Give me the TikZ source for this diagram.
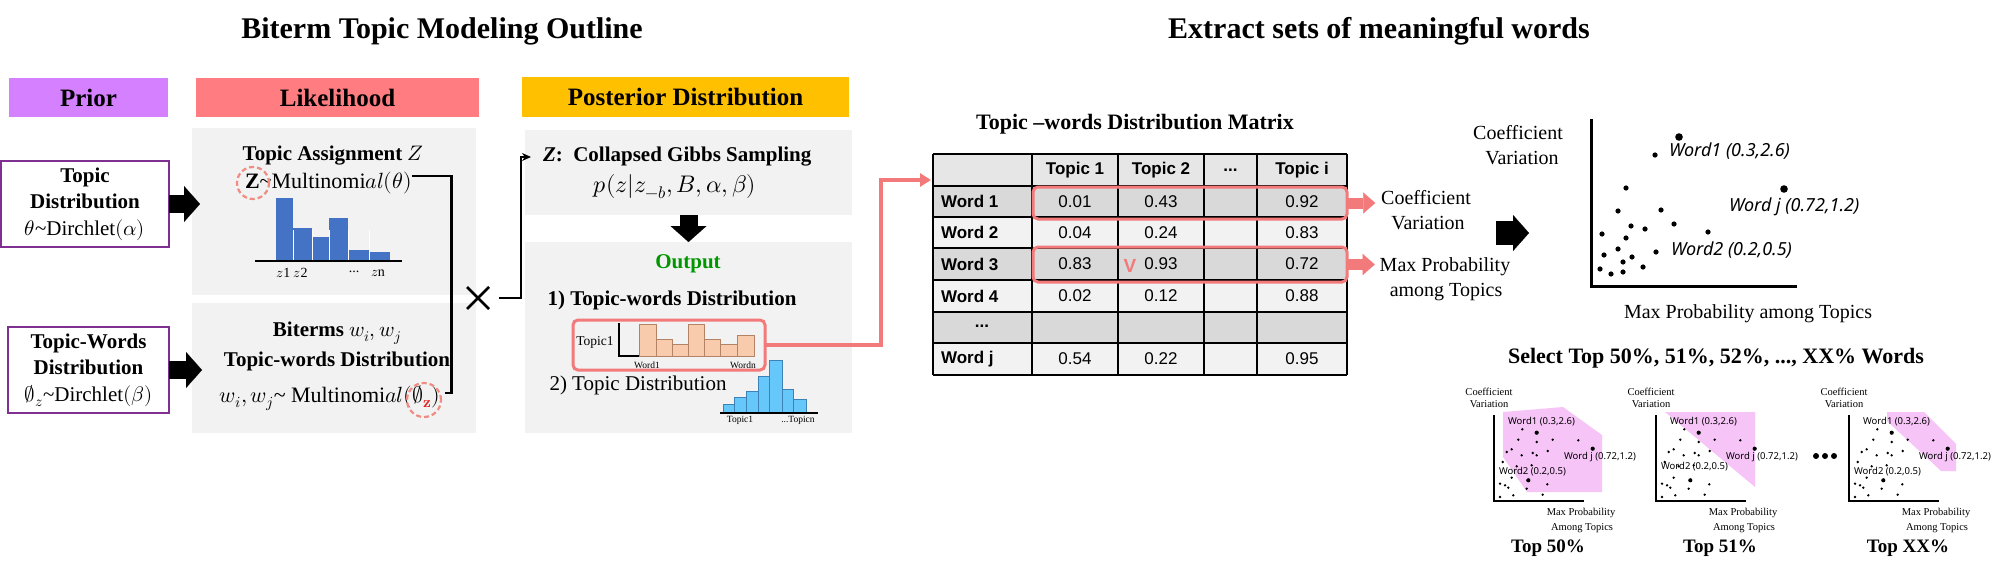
\documentclass[tikz,border=0pt]{standalone}
\usepackage{fontspec}
\usepackage{unicode-math}
\setmainfont{Liberation Serif}
\setmathfont{Latin Modern Math}
\newfontfamily\sansf{Noto Sans}
\newfontfamily\tabf{Liberation Sans}
\usetikzlibrary{arrows.meta,calc}
\newcommand\fsz[2]{\fontsize{#1}{#2}\selectfont}
\definecolor{priorc}{RGB}{213,128,255}
\definecolor{likc}{RGB}{255,124,128}
\definecolor{postc}{RGB}{255,192,0}
\definecolor{purpc}{RGB}{128,48,144}
\definecolor{grayc}{RGB}{242,242,242}
\definecolor{salmon}{RGB}{242,122,122}
\definecolor{dashred}{RGB}{240,140,130}
\definecolor{histblue}{RGB}{68,114,196}
\definecolor{peach}{RGB}{248,203,173}
\definecolor{peachd}{RGB}{180,130,100}
\definecolor{skyb}{RGB}{102,200,250}
\definecolor{skybd}{RGB}{60,130,180}
\definecolor{outgreen}{RGB}{0,150,0}
\definecolor{zred}{RGB}{230,30,30}
\definecolor{hdrc}{RGB}{230,230,230}
\definecolor{dkc}{RGB}{217,217,217}
\definecolor{ltc}{RGB}{242,242,242}
\definecolor{pinkc}{RGB}{246,196,246}
\tikzset{
 gbox/.style={rectangle, fill=grayc, draw=none},
 hdr/.style={rectangle, font=\fsz{25}{30}\bfseries},
 pbox/.style={rectangle, draw=purpc, line width=2.5pt, fill=white, align=center, font=\fsz{21}{26.5}},
 conn/.style={draw=black, line width=2.5pt},
 dcirc/.style={circle, draw=dashred, dash pattern=on 5pt off 3pt, line width=2.2pt},
 redrect/.style={rectangle, rounded corners=5pt, draw=salmon, line width=3pt},
 redconn/.style={draw=salmon, line width=3.5pt},
 blkbig/.style={draw=black, line width=18pt, -{Triangle[length=16pt,width=36pt,line width=0.1pt]}},
 blkr/.style={draw=black, line width=24pt, -{Triangle[length=16pt,width=36pt,line width=0.1pt]}},
 blksm/.style={draw=salmon, line width=11pt, -{Triangle[length=12pt,width=21pt,line width=0.1pt]}},
 body/.style={font=\fsz{21}{25}},
 bodym/.style={font=\fsz{22}{25}},
 bodyb/.style={font=\fsz{21}{25}\bfseries},
 lab/.style={font=\fsz{20}{24}},
 tnum/.style={font=\tabf\fsz{17}{20}},
 tb/.style={font=\tabf\bfseries\fsz{17}{20}},
 tline/.style={draw=black, line width=1.2pt},
}
\newcommand\smplot[6]{%
 \begin{scope}[shift={(1494+#1,501)}]
   \fill[pinkc] #3;
   \draw[line width=1.8pt] (0,-86) -- (0,0) -- (90,0);
   \foreach \px/\py in {28.3/-71.7,24.3/-61.3,42.7/-59,58.7/-61.3,84.3/-60.7,12.7/-49,17.7/-51.7,27.7/-45.7,38.7/-48,42.7/-45.7,53.7/-50,8.7/-39,37.7/-35.7,22.7/-34.7,17.7/-23.3,53.3/-16.7,6/-17.3,11/-15.7,14.3/-13.3,32.7/-12.3,6/-4,19.3/-5.7,48.7/-6.3}
     \fill (\px,\py) circle (1.3pt);
   \foreach \px/\py in {42.7/-68.3,98.7/-52.3,34.3/-20.7}
     \fill (\px,\py) circle (2.1pt);
   \node[font=\sansf\fsz{9.5}{11}, anchor=west] (#2w1) at (14,-79) {Word1 (0.3,2.6)};
   \node[font=\sansf\fsz{9.5}{11}, anchor=west] (#2wj) at (70,-44) {Word j (0.72,1.2)};
   \node[font=\sansf\fsz{9.5}{11}, anchor=west] (#2w2) at (5,#6) {Word2 (0.2,0.5)};
   \node[font=\fsz{10.5}{12}] (#2c1) at (-5,-109) {Coefficient};
   \node[font=\fsz{10.5}{12}] (#2c2) at (-5,-97) {Variation};
   \node[font=\fsz{10.5}{12}] (#2m1) at (87,12) {Max Probability};
   \node[font=\fsz{10.5}{12}] (#2m2) at (88,27) {Among Topics};
 \end{scope}
 \node[font=\fsz{19}{23}\bfseries] (#2t) at (#5,548) {#4};
}
\begin{document}
\begin{tikzpicture}[x=1pt,y=-1pt, every node/.style={inner sep=0pt, outer sep=0pt}]
\useasboundingbox (0,0) rectangle (2002,575);
\fill[white] (0,0) rectangle (2002,575);

% titles
\node[font=\fsz{30}{34}\bfseries] (t1) at (442,31) {Biterm Topic Modeling Outline};
\node[font=\fsz{30}{34}\bfseries] (t2) at (1379,31) {Extract sets of meaningful words};

% headers
\node[hdr, fill=priorc, minimum width=159pt, minimum height=39pt] (hp) at (88.5,97.5) {Prior};
\node[hdr, fill=likc, minimum width=283pt, minimum height=39pt] (hl) at (337.5,97.5) {Likelihood};
\node[hdr, fill=postc, minimum width=327pt, minimum height=40pt] (hpo) at (685.5,97) {Posterior Distribution};

% gray panels
\node[gbox, minimum width=284pt, minimum height=167pt] (likA) at (334,211.5) {};
\node[gbox, minimum width=284pt, minimum height=130pt] (likB) at (334,368) {};
\node[gbox, minimum width=327pt, minimum height=85pt] (postA) at (688.5,172.5) {};
\node[gbox, minimum width=327pt, minimum height=191pt] (postB) at (688.5,337.5) {};

% prior boxes
\node[pbox, minimum width=168pt, minimum height=86pt] (priorA) at (85,204)
  {\textbf{Topic}\\\textbf{Distribution}\\$\theta$\textasciitilde Dirchlet$(\alpha)$};
\node[pbox, minimum width=161pt, minimum height=86pt] (priorB) at (88.5,370)
  {\textbf{Topic-Words}\\\textbf{Distribution}\\$\emptyset_z$\textasciitilde Dirchlet$(\beta)$};
\draw[blkbig] (priorA.east) -- ([xshift=8pt]priorA.east -| likA.west);
\draw[blkbig] (priorB.east) -- ([xshift=10pt]priorB.east -| likB.west);

% likelihood A
\node[bodyb] (tassign) at (333,156) {Topic Assignment $Z$};
\node[bodym, anchor=west] (multi1) at (245,183) {\textbf{Z}\textasciitilde Multinomi$al(\theta)$};
\node[dcirc, minimum size=32pt] (zc1) at ([xshift=8pt]multi1.west) {};
\foreach \a/\b/\t in {276/293/198,293/312/228,312/329/237,329/348/218,348/369/250,369/390/252}
  \fill[histblue] (\a,261) rectangle (\b,\t);
\foreach \a in {293,312,329,348,369} \draw[white, line width=0.6pt] (\a,261) -- (\a,230);
\draw[line width=1.3pt] (255,261) -- (402,261);
\node[font=\fsz{14}{16}] (zl1) at (292,273) {$z$1 $z$2};
\node[font=\fsz{14}{16}] (zl2) at (354,272) {...};
\node[font=\fsz{14}{16}] (zl3) at (378,273) {$z$n};

% likelihood B
\node[bodyb] (biterms) at (337,333) {Biterms $w_i, w_j$};
\node[bodyb] (twd) at (337,361) {Topic-words Distribution};
\node[bodym, anchor=east] (multi2) at (440,398) {$w_i, w_j$\textasciitilde{} Multinomi$al(\emptyset_{\textcolor{zred}{\symbf{z}}})$};
\node[dcirc, minimum size=34pt] (zc2) at ([xshift=-16pt,yshift=-2pt]multi2.east) {};

% product bracket
\coordinate (b1) at (multi1.east);
\coordinate (b2) at (445,393);
\draw[conn] ([yshift=7pt]b1) -- ++(40,0) |- (b2);
\coordinate (times) at (478,298);
\draw[line width=2.6pt] (467,287) -- (489,309) (467,309) -- (489,287);

% posterior A
\node[bodyb, anchor=west] (gibbs) at (543,157) {\textbf{\textit{Z}}:\ \ Collapsed Gibbs Sampling};
\node[font=\fsz{24}{28}] (pz) at (675,187) {$p(z|z_{-b},B,\alpha,\beta)$};
\draw[conn, -{Stealth[length=9pt,width=8pt]}] ([xshift=21pt]times) -- ++(22,0) |- ([xshift=-12pt]gibbs.west);
\draw[blkbig] (postA.south) -- (postB.north);

% posterior B
\node[bodyb, text=outgreen] (out) at (688,264) {Output};
\node[bodyb] (tw1) at (672,300) {1) Topic-words Distribution};
\foreach \a/\b/\t in {639/656/324,656/672/339,672/688/344,688/704/324,704/720/339,720/737/344,737/754/335}
  \filldraw[fill=peach, draw=peachd, line width=0.6pt] (\a,356) rectangle (\b,\t);
\draw[line width=1.2pt] (619,323) -- (619,356) -- (639,356);
\node[font=\fsz{13.5}{15}] (topic1) at (595,342) {Topic1};
\node[font=\fsz{9.5}{11}] (w1l) at (647,365) {Word1};
\node[font=\fsz{9.5}{11}] (wnl) at (743,365) {Wordn};
\node[redrect, minimum width=192pt, minimum height=50pt] (twrect) at (669,345) {};
\node[body] (td2) at (638,385) {2) Topic Distribution};
\foreach \a/\b/\t in {723/734/404,734/746/397,746/758/391,758/769/376,769/782/360,782/793/389,793/806/399}
  \filldraw[fill=skyb, draw=skybd, line width=0.6pt] (\a,413) rectangle (\b,\t);
\draw[line width=1.2pt] (720,413) -- (818,413);
\node[font=\fsz{9.5}{11}] (tp1) at (740,420) {Topic1};
\node[font=\fsz{9.5}{11}] (tpn) at (798,420) {...Topicn};

% red connector to table
\coordinate (tabin) at (931,180);
\draw[redconn, -{Triangle[length=11pt,width=13pt]}] (twrect.east) -- ++(116,0) |- (tabin);

% table
\node[font=\fsz{22}{26}\bfseries] (tabt) at (1135,124) {Topic --words Distribution Matrix};
\fill[hdrc] (933,154) rectangle (1347,186);
\fill[dkc] (933,186) rectangle (1347,217);
\fill[ltc] (933,217) rectangle (1347,248);
\fill[dkc] (933,248) rectangle (1347,280);
\fill[ltc] (933,280) rectangle (1347,312);
\fill[dkc] (933,312) rectangle (1347,343);
\fill[ltc] (933,343) rectangle (1347,375);
\foreach \x in {933,1032,1118,1204,1257,1347} \draw[tline] (\x,154) -- (\x,375);
\foreach \y in {154,186,217,248,280,312,343,375} \draw[tline] (933,\y) -- (1347,\y);
\node[tb] (h1) at (1075,170) {Topic 1};
\node[tb] (h2) at (1161,170) {Topic 2};
\node[tb] (h3) at (1230.5,170) {...};
\node[tb] (h4) at (1302,170) {Topic i};
\foreach \n/\y/\a/\b/\c in {1/201.5/0.01/0.43/0.92, 2/232.5/0.04/0.24/0.83, 3/264/0.83/0.93/0.72, 4/296/0.02/0.12/0.88, j/359/0.54/0.22/0.95}{
  \node[tb, anchor=west] (rw\n) at (941,\y) {Word \n};
  \node[tnum] (ca\n) at (1075,\y) {\a};
  \node[tnum] (cb\n) at (1161,\y) {\b};
  \node[tnum] (cc\n) at (1302,\y) {\c};
}
\node[tb] (rdots) at (982,326) {...};
\node[redrect, minimum width=314pt, minimum height=32pt] (sel1) at (1190,203) {};
\node[redrect, minimum width=314pt, minimum height=35pt] (sel3) at (1190,264.5) {};
\node[font=\tabf\bfseries\fsz{19}{20}, text=salmon] (vmark) at (1130,266) {V};

% labels right of table
\node[lab] (cv1) at (1426,198) {Coefficient};
\node[lab] (cv2) at (1428,223) {Variation};
\node[lab] (mp1) at (1445,267) {Max Probability};
\node[lab] (mp2) at (1446,292) {among Topics};
\draw[blksm, shorten >=6pt] (sel1.east) -- (sel1.east -| cv1.west);
\draw[blksm, shorten >=5pt] (sel3.east) -- (sel3.east -| mp1.west);

% big arrow
\coordinate (ba1) at (1496,233);
\coordinate (ba2) at (1529,233);
\draw[blkr] (ba1) -- (ba2);

% scatter
\coordinate (sY) at (1591,119);
\coordinate (sO) at (1591,286);
\coordinate (sX) at (1797,286);
\draw[line width=3pt] (sY) -- (sO) -- (sX);
\foreach \px/\py in {1655/155,1626/188,1618/211,1661/210,1631/226,1645/229,1674/224,1708/232,1602/234,1626/238,1618/249,1656/252,1604/255,1632/257,1623/262,1643/267,1600/269,1611/274,1623/272}
  \fill (\px,\py) circle (2.6pt);
\fill (1679,137) circle (3.8pt);
\fill (1784,189) circle (3.8pt);
\node[font=\sansf\itshape\fsz{18}{20}, anchor=west] (lw1) at (1669,151) {Word1 (0.3,2.6)};
\node[font=\sansf\itshape\fsz{18}{20}, anchor=west] (lwj) at (1729,207) {Word j (0.72,1.2)};
\node[font=\sansf\itshape\fsz{18}{20}, anchor=west] (lw2) at (1671,250) {Word2 (0.2,0.5)};
\node[lab] (scv1) at (1518,133) {Coefficient};
\node[lab] (scv2) at (1522,158) {Variation};
\node[lab] (smp) at (1748,314) {Max Probability among Topics};

% select
\node[font=\fsz{22}{26}\bfseries] (selt) at (1716,358) {Select Top 50\%, 51\%, 52\%, ..., XX\% Words};

\smplot{0}{pa}{(9,-89) -- (69,-94) -- (108,-66) -- (108,-9) -- (33,-9) -- (9,-44) -- cycle}{Top 50\%}{1548}{-29}
\smplot{162}{pb}{(9,-89) -- (99,-89) -- (99,-14) -- cycle}{Top 51\%}{1720}{-34}
\smplot{355}{pc}{(38,-89) -- (75,-89) -- (107,-57) -- (107,-30) -- (92,-30) -- (38,-80) -- cycle}{Top XX\%}{1908}{-29}
\fill (1816,456) circle (3pt);
\fill (1825,456) circle (3pt);
\fill (1834,456) circle (3pt);
\end{tikzpicture}
\end{document}
